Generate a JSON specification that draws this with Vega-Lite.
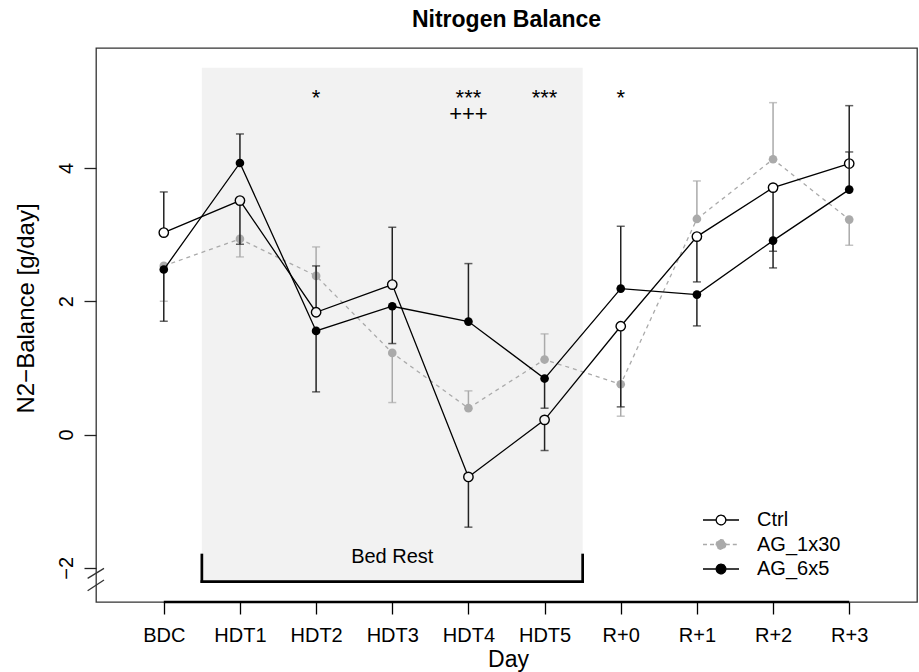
{
  "$schema": "https://vega.github.io/schema/vega-lite/v6.json",
  "width": 821,
  "height": 554,
  "autosize": "none",
  "padding": {"left": 96, "top": 48, "right": 2, "bottom": 70},
  "background": "white",
  "title": {"text": "Nitrogen Balance", "fontSize": 23, "fontWeight": "bold", "font": "Liberation Sans", "anchor": "middle", "baseline": "alphabetic", "offset": -2, "color": "#000000"},
  "datasets": {
    "nb": [
      {"day": "BDC", "n": 1, "group": "AG_1x30", "balance": 2.53, "bound": 2.0},
      {"day": "HDT1", "n": 2, "group": "AG_1x30", "balance": 2.935, "bound": 2.665},
      {"day": "HDT2", "n": 3, "group": "AG_1x30", "balance": 2.38, "bound": 2.815},
      {"day": "HDT3", "n": 4, "group": "AG_1x30", "balance": 1.225, "bound": 0.48},
      {"day": "HDT4", "n": 5, "group": "AG_1x30", "balance": 0.395, "bound": 0.655},
      {"day": "HDT5", "n": 6, "group": "AG_1x30", "balance": 1.125, "bound": 1.51},
      {"day": "R+0", "n": 7, "group": "AG_1x30", "balance": 0.755, "bound": 0.275},
      {"day": "R+1", "n": 8, "group": "AG_1x30", "balance": 3.235, "bound": 3.805},
      {"day": "R+2", "n": 9, "group": "AG_1x30", "balance": 4.13, "bound": 4.98},
      {"day": "R+3", "n": 10, "group": "AG_1x30", "balance": 3.225, "bound": 2.84},
      {"day": "BDC", "n": 1, "group": "Ctrl", "balance": 3.03, "bound": 3.64},
      {"day": "HDT1", "n": 2, "group": "Ctrl", "balance": 3.51, "bound": 2.855},
      {"day": "HDT2", "n": 3, "group": "Ctrl", "balance": 1.835, "bound": 2.53},
      {"day": "HDT3", "n": 4, "group": "Ctrl", "balance": 2.25, "bound": 3.11},
      {"day": "HDT4", "n": 5, "group": "Ctrl", "balance": -0.636, "bound": -1.39},
      {"day": "HDT5", "n": 6, "group": "Ctrl", "balance": 0.22, "bound": -0.24},
      {"day": "R+0", "n": 7, "group": "Ctrl", "balance": 1.625, "bound": 0.415},
      {"day": "R+1", "n": 8, "group": "Ctrl", "balance": 2.97, "bound": 2.29},
      {"day": "R+2", "n": 9, "group": "Ctrl", "balance": 3.705, "bound": 2.75},
      {"day": "R+3", "n": 10, "group": "Ctrl", "balance": 4.066, "bound": 4.24},
      {"day": "BDC", "n": 1, "group": "AG_6x5", "balance": 2.476, "bound": 1.7},
      {"day": "HDT1", "n": 2, "group": "AG_6x5", "balance": 4.075, "bound": 4.51},
      {"day": "HDT2", "n": 3, "group": "AG_6x5", "balance": 1.555, "bound": 0.64},
      {"day": "HDT3", "n": 4, "group": "AG_6x5", "balance": 1.925, "bound": 1.365},
      {"day": "HDT4", "n": 5, "group": "AG_6x5", "balance": 1.695, "bound": 2.565},
      {"day": "HDT5", "n": 6, "group": "AG_6x5", "balance": 0.84, "bound": 0.395},
      {"day": "R+0", "n": 7, "group": "AG_6x5", "balance": 2.19, "bound": 3.125},
      {"day": "R+1", "n": 8, "group": "AG_6x5", "balance": 2.1, "bound": 1.63},
      {"day": "R+2", "n": 9, "group": "AG_6x5", "balance": 2.91, "bound": 2.5},
      {"day": "R+3", "n": 10, "group": "AG_6x5", "balance": 3.675, "bound": 4.935}
    ],
    "sig": [
      {"n": 3, "label": "*", "level": 4.952},
      {"n": 5, "label": "***", "level": 4.952},
      {"n": 5, "label": "+++", "level": 4.704},
      {"n": 6, "label": "***", "level": 4.952},
      {"n": 7, "label": "*", "level": 4.952}
    ],
    "shade": [{"start": 1.5, "end": 6.5, "low": -2.206, "high": 5.504}],
    "bracket": [
      {"xa": 1.5, "xb": 6.5, "ya": -2.206, "yb": -2.206},
      {"xa": 1.5, "xb": 1.5, "ya": -1.808, "yb": -2.206},
      {"xa": 6.5, "xb": 6.5, "ya": -1.808, "yb": -2.206}
    ],
    "brk": [
      {"xa": 0.0, "xb": 0.215, "ya": -2.158, "yb": -2.008},
      {"xa": 0.0, "xb": 0.215, "ya": -2.344, "yb": -2.183}
    ],
    "xline": [{"xa": 1, "xb": 10, "ya": -2.513}],
    "note": [{"label": "Bed Rest", "n": 4, "level": -1.928}]
  },
  "layer": [
    {
      "data": {"name": "shade"},
      "mark": {"type": "rect", "color": "#f2f2f2"},
      "encoding": {
        "x": {"field": "start", "type": "quantitative", "scale": {"domain": [0.11, 10.89], "nice": false, "zero": false}},
        "x2": {"field": "end"},
        "y": {"field": "low", "type": "quantitative", "scale": {"domain": [-2.513, 5.8], "nice": false, "zero": false}},
        "y2": {"field": "high"}
      }
    },
    {
      "data": {"name": "bracket"},
      "mark": {"type": "rule", "color": "#000000", "strokeWidth": 2.7, "strokeCap": "square"},
      "encoding": {
        "x": {"field": "xa", "type": "quantitative", "scale": {"domain": [0.11, 10.89], "nice": false, "zero": false}},
        "x2": {"field": "xb"},
        "y": {"field": "ya", "type": "quantitative", "scale": {"domain": [-2.513, 5.8], "nice": false, "zero": false}},
        "y2": {"field": "yb"}
      }
    },
    {
      "data": {"name": "note"},
      "mark": {"type": "text", "fontSize": 20, "font": "Liberation Sans", "align": "center", "baseline": "alphabetic", "color": "#000000"},
      "encoding": {
        "x": {"field": "n", "type": "quantitative", "scale": {"domain": [0.11, 10.89], "nice": false, "zero": false}},
        "y": {"field": "level", "type": "quantitative", "scale": {"domain": [-2.513, 5.8], "nice": false, "zero": false}},
        "text": {"field": "label"}
      }
    },
    {
      "data": {"name": "brk"},
      "mark": {"type": "rule", "color": "#333333", "strokeWidth": 1.3},
      "encoding": {
        "x": {"field": "xa", "type": "quantitative", "scale": {"domain": [0.11, 10.89], "nice": false, "zero": false}},
        "x2": {"field": "xb"},
        "y": {"field": "ya", "type": "quantitative", "scale": {"domain": [-2.513, 5.8], "nice": false, "zero": false}},
        "y2": {"field": "yb"}
      }
    },
    {
      "data": {"name": "xline"},
      "mark": {"type": "rule", "color": "#000000", "strokeWidth": 2.5},
      "encoding": {
        "x": {"field": "xa", "type": "quantitative", "scale": {"domain": [0.11, 10.89], "nice": false, "zero": false}},
        "x2": {"field": "xb"},
        "y": {"field": "ya", "type": "quantitative", "scale": {"domain": [-2.513, 5.8], "nice": false, "zero": false}}
      }
    },
    {
      "data": {"name": "nb"},
      "transform": [{"filter": "datum.group === 'AG_1x30'"}],
      "layer": [
        {
          "mark": {"type": "rule", "color": "#aaaaaa", "strokeWidth": 1.5},
          "encoding": {
            "x": {"field": "n", "type": "quantitative", "scale": {"domain": [0.11, 10.89], "nice": false, "zero": false}},
            "y": {"field": "balance", "type": "quantitative", "scale": {"domain": [-2.513, 5.8], "nice": false, "zero": false}},
            "y2": {"field": "bound"}
          }
        },
        {
          "mark": {"type": "tick", "orient": "horizontal", "size": 8, "thickness": 1.5, "color": "#aaaaaa"},
          "encoding": {
            "x": {"field": "n", "type": "quantitative", "scale": {"domain": [0.11, 10.89], "nice": false, "zero": false}},
            "y": {"field": "bound", "type": "quantitative", "scale": {"domain": [-2.513, 5.8], "nice": false, "zero": false}}
          }
        },
        {
          "mark": {"type": "line", "strokeWidth": 1.3, "strokeDash": [4, 4]},
          "encoding": {
            "x": {"field": "n", "type": "quantitative", "scale": {"domain": [0.11, 10.89], "nice": false, "zero": false},
              "axis": {"values": [1, 2, 3, 4, 5, 6, 7, 8, 9, 10], "labelExpr": "['BDC','HDT1','HDT2','HDT3','HDT4','HDT5','R+0','R+1','R+2','R+3'][datum.value - 1]", "title": "Day", "labelBaseline": "alphabetic", "labelPadding": 27, "labelFlush": false, "labelOverlap": false, "titleFontSize": 23, "titleBaseline": "alphabetic", "titleAlign": "center", "titleX": 412, "titleY": 64, "tickColor": "#000000"}},
            "y": {"field": "balance", "type": "quantitative", "scale": {"domain": [-2.513, 5.8], "nice": false, "zero": false},
              "axis": {"values": [-2, 0, 2, 4], "format": "d", "labelAngle": -90, "labelAlign": "center", "labelBaseline": "alphabetic", "labelPadding": 12, "title": "N2−Balance [g/day]", "titleFontSize": 24, "titleAngle": -90, "titleAlign": "center", "titleBaseline": "alphabetic", "titleX": -63, "titleY": 260}},
            "color": {"field": "group", "type": "nominal",
              "scale": {"domain": ["Ctrl", "AG_1x30", "AG_6x5"], "range": ["#000000", "#aaaaaa", "#000000"]},
              "legend": {"title": null, "orient": "none", "legendX": 612, "legendY": 459, "padding": 0,
                "symbolType": "M-1.5,0L-0.4,0M0.4,0L1.5,0M0.4,0A0.4,0.4,0,1,1,-0.4,0A0.4,0.4,0,1,1,0.4,0Z",
                "symbolSize": 576, "symbolStrokeWidth": 1.3, "labelFontSize": 20, "labelFont": "Liberation Sans", "labelColor": "#000000", "labelOffset": 23, "rowPadding": 1.5,
                "encode": {"symbols": {"update": {
                  "fill": {"signal": "datum.value === 'Ctrl' ? '#ffffff' : (datum.value === 'AG_1x30' ? '#aaaaaa' : '#000000')"},
                  "stroke": {"signal": "datum.value === 'AG_1x30' ? '#aaaaaa' : '#000000'"},
                  "strokeDash": {"signal": "datum.value === 'AG_1x30' ? [4, 3] : [1, 0]"},
                  "opacity": {"value": 1}}}}}}
          }
        },
        {
          "mark": {"type": "circle", "size": 75, "opacity": 1, "color": "#aaaaaa"},
          "encoding": {
            "x": {"field": "n", "type": "quantitative", "scale": {"domain": [0.11, 10.89], "nice": false, "zero": false}},
            "y": {"field": "balance", "type": "quantitative", "scale": {"domain": [-2.513, 5.8], "nice": false, "zero": false}}
          }
        }
      ]
    },
    {
      "data": {"name": "nb"},
      "transform": [{"filter": "datum.group === 'Ctrl'"}],
      "layer": [
        {
          "mark": {"type": "rule", "color": "#222222", "strokeWidth": 1.5},
          "encoding": {
            "x": {"field": "n", "type": "quantitative", "scale": {"domain": [0.11, 10.89], "nice": false, "zero": false}},
            "y": {"field": "balance", "type": "quantitative", "scale": {"domain": [-2.513, 5.8], "nice": false, "zero": false}},
            "y2": {"field": "bound"}
          }
        },
        {
          "mark": {"type": "tick", "orient": "horizontal", "size": 8, "thickness": 1.5, "color": "#222222"},
          "encoding": {
            "x": {"field": "n", "type": "quantitative", "scale": {"domain": [0.11, 10.89], "nice": false, "zero": false}},
            "y": {"field": "bound", "type": "quantitative", "scale": {"domain": [-2.513, 5.8], "nice": false, "zero": false}}
          }
        },
        {
          "mark": {"type": "line", "strokeWidth": 1.3},
          "encoding": {
            "x": {"field": "n", "type": "quantitative", "scale": {"domain": [0.11, 10.89], "nice": false, "zero": false}},
            "y": {"field": "balance", "type": "quantitative", "scale": {"domain": [-2.513, 5.8], "nice": false, "zero": false}},
            "color": {"field": "group", "type": "nominal", "scale": {"domain": ["Ctrl", "AG_1x30", "AG_6x5"], "range": ["#000000", "#aaaaaa", "#000000"]}}
          }
        },
        {
          "mark": {"type": "circle", "size": 88, "opacity": 1, "stroke": "#000000", "strokeWidth": 1.4},
          "encoding": {
            "x": {"field": "n", "type": "quantitative", "scale": {"domain": [0.11, 10.89], "nice": false, "zero": false}},
            "y": {"field": "balance", "type": "quantitative", "scale": {"domain": [-2.513, 5.8], "nice": false, "zero": false}},
            "fill": {"condition": {"test": "datum.n >= 2 && datum.n <= 6", "value": "#f2f2f2"}, "value": "#ffffff"}
          }
        }
      ]
    },
    {
      "data": {"name": "nb"},
      "transform": [{"filter": "datum.group === 'AG_6x5'"}],
      "layer": [
        {
          "mark": {"type": "rule", "color": "#222222", "strokeWidth": 1.5},
          "encoding": {
            "x": {"field": "n", "type": "quantitative", "scale": {"domain": [0.11, 10.89], "nice": false, "zero": false}},
            "y": {"field": "balance", "type": "quantitative", "scale": {"domain": [-2.513, 5.8], "nice": false, "zero": false}},
            "y2": {"field": "bound"}
          }
        },
        {
          "mark": {"type": "tick", "orient": "horizontal", "size": 8, "thickness": 1.5, "color": "#222222"},
          "encoding": {
            "x": {"field": "n", "type": "quantitative", "scale": {"domain": [0.11, 10.89], "nice": false, "zero": false}},
            "y": {"field": "bound", "type": "quantitative", "scale": {"domain": [-2.513, 5.8], "nice": false, "zero": false}}
          }
        },
        {
          "mark": {"type": "line", "strokeWidth": 1.3},
          "encoding": {
            "x": {"field": "n", "type": "quantitative", "scale": {"domain": [0.11, 10.89], "nice": false, "zero": false}},
            "y": {"field": "balance", "type": "quantitative", "scale": {"domain": [-2.513, 5.8], "nice": false, "zero": false}},
            "color": {"field": "group", "type": "nominal", "scale": {"domain": ["Ctrl", "AG_1x30", "AG_6x5"], "range": ["#000000", "#aaaaaa", "#000000"]}}
          }
        },
        {
          "mark": {"type": "circle", "size": 75, "opacity": 1, "color": "#000000"},
          "encoding": {
            "x": {"field": "n", "type": "quantitative", "scale": {"domain": [0.11, 10.89], "nice": false, "zero": false}},
            "y": {"field": "balance", "type": "quantitative", "scale": {"domain": [-2.513, 5.8], "nice": false, "zero": false}}
          }
        }
      ]
    },
    {
      "data": {"name": "sig"},
      "mark": {"type": "text", "fontSize": 22, "font": "Liberation Sans", "align": "center", "baseline": "alphabetic", "color": "#000000"},
      "encoding": {
        "x": {"field": "n", "type": "quantitative", "scale": {"domain": [0.11, 10.89], "nice": false, "zero": false}},
        "y": {"field": "level", "type": "quantitative", "scale": {"domain": [-2.513, 5.8], "nice": false, "zero": false}},
        "text": {"field": "label"}
      }
    }
  ],
  "config": {
    "font": "Liberation Sans",
    "view": {"stroke": "#333333", "strokeWidth": 1.3},
    "axis": {"grid": false, "domain": false, "labelColor": "#000000", "titleColor": "#000000", "tickColor": "#222222", "tickWidth": 1.3, "tickSize": 12, "labelFontSize": 20, "labelFont": "Liberation Sans", "titleFont": "Liberation Sans", "titleFontWeight": "normal"}
  }
}
